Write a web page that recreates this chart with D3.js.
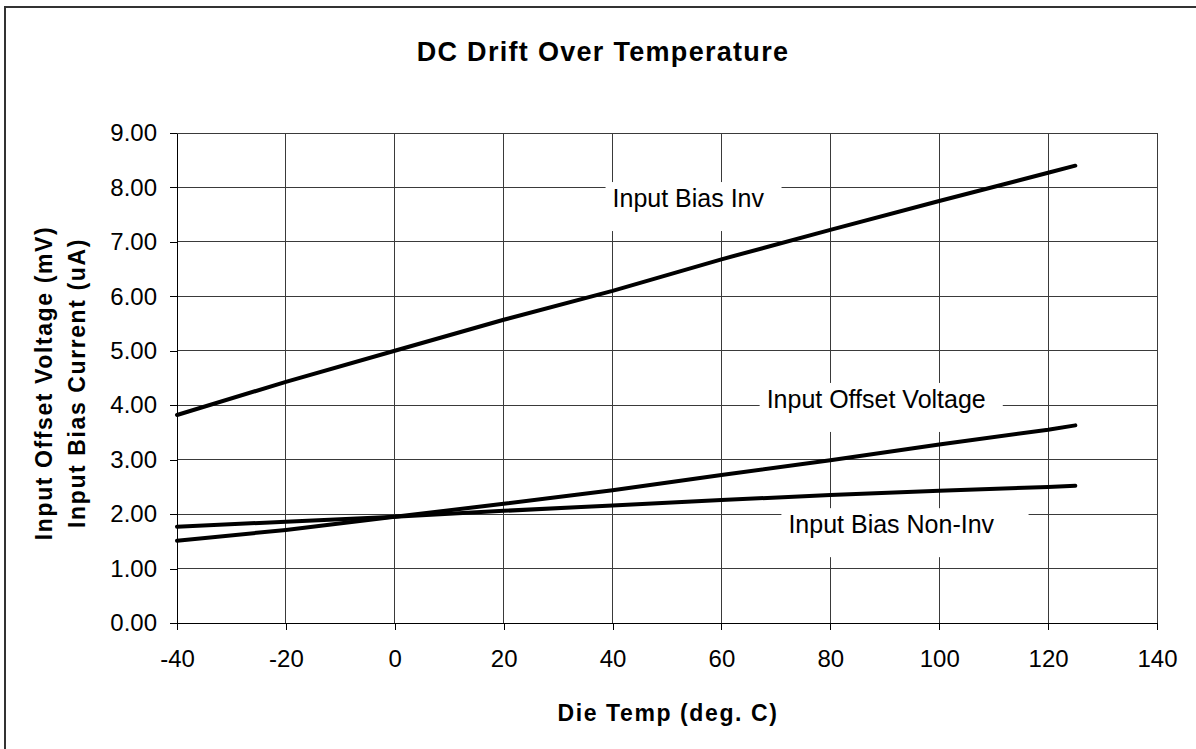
<!DOCTYPE html>
<html>
<head>
<meta charset="utf-8">
<script src="https://cdn.jsdelivr.net/npm/d3@7"></script>
<style>
  html, body { margin: 0; padding: 0; background: #fff; }
  svg { display: block; }
  text { font-family: "Liberation Sans", Arial, sans-serif; fill: #000; }
</style>
</head>
<body>
<script>
// ---- data ----
const temps      = [-40, -20, 0, 20, 40, 60, 80, 100, 120, 125];
const biasInv    = [3.82, 4.43, 5.00, 5.57, 6.10, 6.68, 7.22, 7.75, 8.27, 8.40];
const offsetV    = [1.51, 1.71, 1.95, 2.19, 2.44, 2.72, 2.99, 3.28, 3.55, 3.63];
const biasNonInv = [1.77, 1.86, 1.95, 2.06, 2.16, 2.26, 2.35, 2.43, 2.50, 2.52];
const seriesNames = ["Input Bias Inv", "Input Offset Voltage", "Input Bias Non-Inv"];
const xTicks = [-40, -20, 0, 20, 40, 60, 80, 100, 120, 140];
const yTicks = [0, 1, 2, 3, 4, 5, 6, 7, 8, 9];
// label anchors (data units: temperature, value at text baseline)
const labelX = [40, 68.3, 72.3];
const labelY = [7.64, 3.95, 1.65];
const titleText = "DC Drift Over Temperature";
const xTitle = "Die Temp (deg. C)";
const yTitleLines = ["Input Offset Voltage (mV)", "Input Bias Current (uA)"];

// ---- drawing ----
const W = 1196, H = 749;
const svg = d3.select("body").append("svg").attr("width", W).attr("height", H);
svg.append("rect").attr("width", W).attr("height", H).attr("fill", "#fff");

// outer chart border (only left/top visible)
svg.append("path").attr("d", `M5,${H} V7 H${W}`)
  .attr("fill", "none").attr("stroke", "#333").attr("stroke-width", 2);

const x = d3.scaleLinear().domain([-40, 140]).range([177, 1157]);
const y = d3.scaleLinear().domain([0, 9]).range([623, 133]);

// gridlines
const grid = svg.append("g").attr("stroke", "#3a3a3a").attr("stroke-width", 1).attr("shape-rendering", "crispEdges");
grid.selectAll("line.v").data(xTicks).join("line")
  .attr("x1", d => x(d)).attr("x2", d => x(d))
  .attr("y1", y(0)).attr("y2", y(9));
grid.selectAll("line.h").data(yTicks).join("line")
  .attr("x1", x(-40)).attr("x2", x(140))
  .attr("y1", d => y(d)).attr("y2", d => y(d));

// axes
const yAxis = svg.append("g").attr("transform", `translate(${x(-40)},0)`)
  .call(d3.axisLeft(y).tickValues(yTicks).tickFormat(d => d.toFixed(2))
    .tickSize(7).tickSizeOuter(0).tickPadding(13));
const xAxis = svg.append("g").attr("transform", `translate(0,${y(0)})`)
  .call(d3.axisBottom(x).tickValues(xTicks).tickFormat(d => String(d))
    .tickSize(7).tickSizeOuter(0).tickPadding(20));
[yAxis, xAxis].forEach(a => {
  a.selectAll("path, line").attr("stroke", "#000").attr("shape-rendering", "crispEdges");
  a.selectAll("text").attr("font-size", 24).attr("fill", "#000")
    .style("font-family", '"Liberation Sans", Arial, sans-serif');
});
xAxis.selectAll("text").attr("dy", "0.71em");

// series lines
const seriesVals = [biasInv, offsetV, biasNonInv];
const line = d3.line().x((d, i) => x(temps[i])).y(d => y(d));
svg.append("g").selectAll("path").data(seriesVals).join("path")
  .attr("d", d => line(d))
  .attr("fill", "none").attr("stroke", "#000").attr("stroke-width", 4)
  .attr("stroke-linejoin", "round").attr("stroke-linecap", "round");

// series labels with white boxes
const padRight = [17, 17, 34];
seriesNames.forEach((name, i) => {
  const g = svg.append("g");
  const rect = g.append("rect").attr("fill", "#fff");
  const t = g.append("text").attr("x", x(labelX[i])).attr("y", y(labelY[i]))
    .attr("font-size", 25).text(name);
  const bb = t.node().getBBox();
  rect.attr("x", bb.x - 7).attr("y", y(labelY[i]) - 25)
    .attr("width", bb.width + 7 + padRight[i]).attr("height", 49);
});

// titles
svg.append("text").attr("x", 603).attr("y", 61).attr("text-anchor", "middle")
  .attr("font-size", 27).attr("font-weight", "bold").attr("letter-spacing", 1.3)
  .text(titleText);
svg.append("text").attr("x", 668).attr("y", 721).attr("text-anchor", "middle")
  .attr("font-size", 23).attr("font-weight", "bold").attr("letter-spacing", 1.6)
  .text(xTitle);
const yT = svg.append("g").attr("transform", "translate(0,383) rotate(-90)");
yTitleLines.forEach((s, i) => {
  yT.append("text").attr("x", 0).attr("y", 52 + i * 33).attr("text-anchor", "middle")
    .attr("font-size", 23).attr("font-weight", "bold").attr("letter-spacing", 1.6)
    .text(s);
});
</script>
</body>
</html>
